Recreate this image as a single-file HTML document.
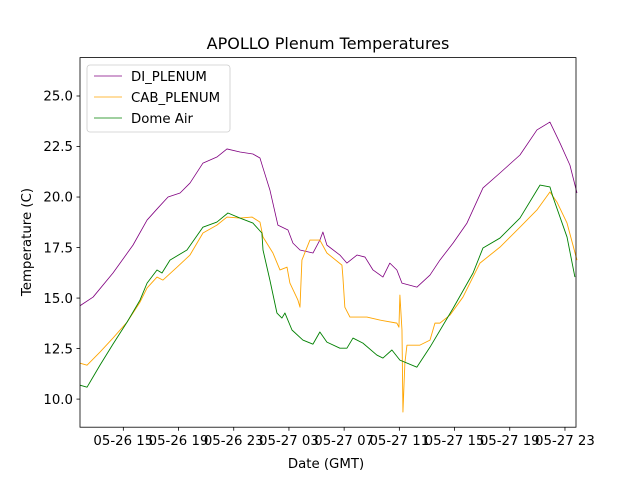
<!DOCTYPE html>
<html><head><meta charset="utf-8"><style>
html,body{margin:0;padding:0;background:#fff;}
svg{display:block;font-family:"DejaVu Sans","Liberation Sans",sans-serif;}
</style></head><body>
<svg id="chart" width="640" height="480" viewBox="0 0 640 480" xmlns="http://www.w3.org/2000/svg">
<rect width="640" height="480" fill="#fff"/>
<text x="328" y="49" text-anchor="middle" font-size="16">APOLLO Plenum Temperatures</text>
<g id="series"></g>
<g id="axes"></g>
<rect x="80" y="57.6" width="496" height="369.6" fill="none" stroke="#000" stroke-width="0.8"/>
<text x="326" y="468" text-anchor="middle" font-size="13.3">Date (GMT)</text>
<text transform="translate(31,242) rotate(-90)" text-anchor="middle" font-size="13.3">Temperature (C)</text>
<g>
<rect x="87" y="65" width="143" height="67" rx="3" fill="#fff" fill-opacity="0.8" stroke="#ccc" stroke-width="0.8"/>
<line x1="94" y1="76" x2="122" y2="76" stroke="purple" stroke-width="0.8"/>
<text x="131" y="81" font-size="13.3">DI_PLENUM</text>
<line x1="94" y1="97" x2="122" y2="97" stroke="orange" stroke-width="0.8"/>
<text x="131" y="102" font-size="13.3">CAB_PLENUM</text>
<line x1="94" y1="118" x2="122" y2="118" stroke="green" stroke-width="0.8"/>
<text x="131" y="123" font-size="13.3">Dome Air</text>
</g>
</svg>
<script>
// hours since 05-26 00:00 GMT
const diHours=[11.86,12.81,14.25,15.70,16.72,17.51,18.24,19.11,19.83,20.77,21.78,22.51,23.45,24.39,24.90,25.12,25.62,26.20,26.93,27.29,27.80,28.74,29.24,29.46,29.75,30.69,31.20,31.93,32.51,33.09,33.81,34.31,34.82,35.19,36.27,37.22,37.94,38.89,39.90,41.06,42.29,43.74,44.97,45.91,46.64,47.36,47.87];
const diTemps=[14.62,15.05,16.24,17.62,18.86,19.46,20.0,20.20,20.69,21.68,21.98,22.38,22.23,22.13,21.93,21.44,20.35,18.61,18.37,17.72,17.38,17.23,17.87,18.27,17.62,17.13,16.73,17.13,17.03,16.39,16.04,16.73,16.39,15.74,15.54,16.14,16.88,17.72,18.71,20.45,21.19,22.08,23.32,23.71,22.67,21.58,20.20];
const cabHours=[11.86,12.37,13.31,14.25,15.27,16.21,16.72,17.44,17.87,18.89,19.83,20.77,21.78,22.51,23.45,24.32,24.90,25.12,25.84,26.35,26.86,27.07,27.65,27.80,27.94,28.52,29.24,29.75,30.84,30.91,31.05,31.42,32.65,33.59,34.82,34.97,35.04,35.19,35.26,35.40,35.55,36.49,37.22,37.58,37.94,38.67,39.61,40.84,42.29,43.74,44.97,45.91,46.42,47.15,47.87];
const cabTemps=[11.78,11.68,12.33,13.02,13.81,14.80,15.50,16.04,15.89,16.53,17.13,18.22,18.61,19.01,18.96,19.01,18.76,18.02,17.23,16.39,16.53,15.74,14.90,14.55,16.88,17.87,17.87,17.23,16.63,16.04,14.55,14.06,14.06,13.91,13.76,13.56,15.15,13.42,9.36,11.78,12.67,12.67,12.92,13.76,13.76,14.16,15.05,16.73,17.52,18.51,19.36,20.25,19.75,18.71,16.88];
const domeHours=[11.86,12.37,13.31,14.25,15.27,16.21,16.72,17.44,17.80,18.38,19.61,20.77,21.78,22.58,23.45,24.39,25.04,25.12,25.62,26.13,26.49,26.71,27.22,28.01,28.74,29.24,29.75,30.69,31.20,31.64,32.36,33.37,33.81,34.46,35.04,36.27,37.22,38.89,40.34,41.06,42.29,43.74,45.19,45.91,46.13,47.15,47.72];
const domeTemps=[10.69,10.59,11.68,12.72,13.81,14.90,15.74,16.39,16.24,16.88,17.38,18.51,18.76,19.21,18.96,18.71,18.22,17.38,15.89,14.26,14.01,14.26,13.42,12.92,12.72,13.32,12.82,12.52,12.52,13.02,12.77,12.18,12.03,12.43,11.93,11.58,12.57,14.49,16.24,17.48,17.97,18.96,20.59,20.50,20.00,18.02,16.04];
const yTicks=[10.0,12.5,15.0,17.5,20.0,22.5,25.0];
const xTickHours=[15,19,23,27,31,35,39,43,47];
const xTickLabels=["05-26 15","05-26 19","05-26 23","05-27 03","05-27 07","05-27 11","05-27 15","05-27 19","05-27 23"];

const NS="http://www.w3.org/2000/svg";
const X0=80,X1=576,Y0=427.2,Y1=57.6;
const hMin=11.86,hMax=47.80,tMin=8.61,tMax=26.90;
function xs(h){return X0+(h-hMin)/(hMax-hMin)*(X1-X0);}
function ys(t){return Y0-(t-tMin)/(tMax-tMin)*(Y0-Y1);}

const sg=document.getElementById('series');
function drawSeries(hs,ts,color,name,w){
  const p=document.createElementNS(NS,'path');
  let d='';
  for(let i=0;i<hs.length;i++){d+=(i?'L':'M')+xs(hs[i]).toFixed(2)+' '+ys(ts[i]).toFixed(2);}
  p.setAttribute('d',d);
  p.setAttribute('fill','none');
  p.setAttribute('stroke',color);
  p.setAttribute('stroke-width',w);
  p.setAttribute('stroke-linejoin','round');
  
  
  sg.appendChild(p);
}
drawSeries(diHours,diTemps,'purple','series-di-plenum',0.8);
drawSeries(cabHours,cabTemps,'orange','series-cab-plenum',0.9);
drawSeries(domeHours,domeTemps,'green','series-dome-air',0.9);

const ag=document.getElementById('axes');
yTicks.forEach(function(t){
  const y=ys(t);
  const l=document.createElementNS(NS,'line');
  l.setAttribute('x1',X0-3.5);l.setAttribute('x2',X0);l.setAttribute('y1',y);l.setAttribute('y2',y);
  l.setAttribute('stroke','#000');l.setAttribute('stroke-width','0.8');
  
  
  ag.appendChild(l);
  const tx=document.createElementNS(NS,'text');
  tx.setAttribute('x',X0-7);tx.setAttribute('y',y+4.7);
  tx.setAttribute('text-anchor','end');tx.setAttribute('font-size','13.3');
  tx.textContent=t.toFixed(1);
  
  
  ag.appendChild(tx);
});
xTickHours.forEach(function(h,i){
  const x=xs(h);
  const l=document.createElementNS(NS,'line');
  l.setAttribute('x1',x);l.setAttribute('x2',x);l.setAttribute('y1',Y0);l.setAttribute('y2',Y0+3.5);
  l.setAttribute('stroke','#000');l.setAttribute('stroke-width','0.8');
  
  
  ag.appendChild(l);
  const tx=document.createElementNS(NS,'text');
  tx.setAttribute('x',x);tx.setAttribute('y',Y0+18);
  tx.setAttribute('text-anchor','middle');tx.setAttribute('font-size','13.3');
  tx.textContent=xTickLabels[i];
  
  
  ag.appendChild(tx);
});
</script>
</body></html>
